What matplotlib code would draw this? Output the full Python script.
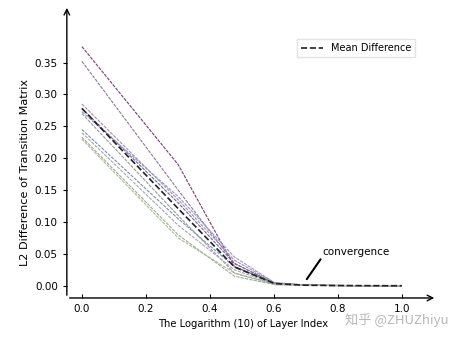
import numpy as np
import matplotlib
matplotlib.use("Agg")
import matplotlib.pyplot as plt

plt.rcParams['font.family'] = ['DejaVu Sans', 'Noto Sans CJK SC']

# layer index 1..10 on a log10 axis
layers = np.arange(1, 11)
x = np.log10(layers)

# L2 difference per run
run1 = [0.375, 0.190, 0.030, 0.004, 0.001, 0.0006, 0.0004, 0.0003, 0.0002, 0.0002]
run2 = [0.352, 0.150, 0.035, 0.004, 0.001, 0.0006, 0.0004, 0.0003, 0.0002, 0.0002]
run3 = [0.285, 0.135, 0.040, 0.005, 0.0012, 0.0007, 0.0005, 0.0003, 0.0002, 0.0002]
run4 = [0.278, 0.130, 0.035, 0.004, 0.001, 0.0006, 0.0004, 0.0003, 0.0002, 0.0002]
run5 = [0.273, 0.140, 0.045, 0.005, 0.0012, 0.0007, 0.0005, 0.0003, 0.0002, 0.0002]
run6 = [0.270, 0.110, 0.020, 0.003, 0.001, 0.0005, 0.0004, 0.0003, 0.0002, 0.0002]
run7 = [0.245, 0.105, 0.030, 0.004, 0.001, 0.0006, 0.0004, 0.0003, 0.0002, 0.0002]
run8 = [0.240, 0.095, 0.025, 0.003, 0.001, 0.0005, 0.0004, 0.0003, 0.0002, 0.0002]
run9 = [0.233, 0.080, 0.015, 0.002, 0.0008, 0.0005, 0.0003, 0.0002, 0.0002, 0.0002]
run10 = [0.230, 0.075, 0.020, 0.002, 0.0008, 0.0005, 0.0003, 0.0002, 0.0002, 0.0002]
runs = [run1, run2, run3, run4, run5, run6, run7, run8, run9, run10]
mean = np.mean(runs, axis=0)

colors = ['#7a3a78', '#8a7a9a', '#b08aa8', '#6a6a9a', '#8f9ad0',
          '#9a9a9a', '#7f90b8', '#a8a8a8', '#9cae8c', '#b0b8a0']

fig = plt.figure(figsize=(4.61, 3.39), dpi=100)
ax = fig.add_axes([0.145, 0.121, 0.803, 0.864])

for r, c in zip(runs, colors):
    ax.plot(x, r, color=c, lw=0.8, ls=(0, (3, 1)))
ax.plot(x, mean, color='#222222', lw=1.2, ls='--', label='Mean Difference')

ax.set_xlim(-0.047, 1.11)
ax.set_ylim(-0.019, 0.44)
ax.set_xticks(np.arange(0, 1.01, 0.2))
ax.set_yticks(np.arange(0, 0.351, 0.05))
ax.set_xticklabels(['0.0', '0.2', '0.4', '0.6', '0.8', '1.0'])
ax.set_yticklabels(['%.2f' % v for v in np.arange(0, 0.351, 0.05)])
ax.tick_params(labelsize=7.5, length=3, width=0.8)
ax.tick_params(axis='x', direction='in', pad=4)
ax.tick_params(axis='y', direction='out')

for s in ax.spines.values():
    s.set_visible(False)
ax.annotate('', xy=(1, 0), xytext=(0, 0), xycoords='axes fraction',
            arrowprops=dict(arrowstyle='->', lw=1.0, color='black'))
ax.annotate('', xy=(0, 1), xytext=(0, 0), xycoords='axes fraction',
            arrowprops=dict(arrowstyle='->', lw=1.0, color='black'))

ax.set_xlabel('The Logarithm (10) of Layer Index', fontsize=7.2)
ax.xaxis.set_label_coords(0.477, -0.073)
ax.set_ylabel('L2 Difference of Transition Matrix', fontsize=8.1)
ax.yaxis.set_label_coords(-0.1, 0.427)

ax.annotate('convergence', xy=(0.703, 0.0105), xytext=(0.752, 0.046),
            fontsize=7.5, va='bottom',
            arrowprops=dict(arrowstyle='-', lw=1.5, color='black',
                            shrinkA=0, shrinkB=0, relpos=(0, 0)))

ax.legend(loc='upper right', bbox_to_anchor=(0.94, 0.884), borderaxespad=0,
          fontsize=7, handlelength=2.2, frameon=True, fancybox=False,
          edgecolor='#dddddd')

fig.text(0.748, 0.045, '知乎 @ZHUZhiyu', fontsize=9.5, color='#b8b8b8',
         family=['Noto Sans CJK SC', 'DejaVu Sans'])

fig.savefig('out.png', dpi=100)
